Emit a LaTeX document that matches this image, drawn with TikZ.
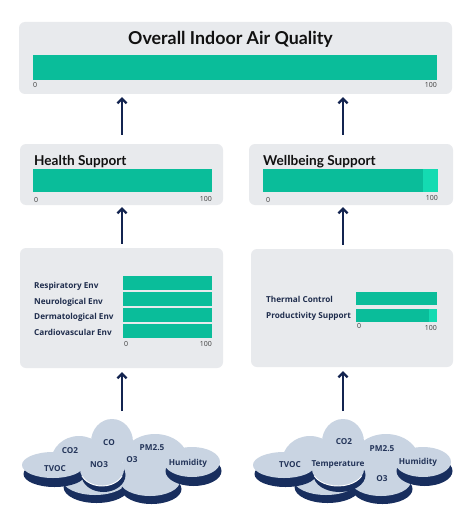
\documentclass[tikz,border=0pt]{standalone}
\usepackage{fontspec}
\setmainfont{Lato}
\newfontfamily\cloudfont{Open Sans}
\usetikzlibrary{arrows.meta,calc}
\definecolor{boxbg}{HTML}{E8EAED}
\definecolor{barteal}{HTML}{0ABD9A}
\definecolor{barlight}{HTML}{14DBB2}
\definecolor{navy}{HTML}{132450}
\definecolor{labeltext}{HTML}{1F2D4D}
\definecolor{titletext}{HTML}{111111}
\definecolor{cloudlight}{HTML}{C9D4E2}
\definecolor{clouddark}{HTML}{182E5E}
\definecolor{cloudtext}{HTML}{233459}
\definecolor{axistext}{HTML}{3A3A3A}
\newcommand\lobelight[4]{%
  \fill[cloudlight] (#1,#2) ellipse [x radius=#3pt, y radius=#4pt];}
% #5 = downward offset of the shadow
\newcommand\lobefull[5]{%
  \fill[clouddark] (#1+1.5,#2+#5) ellipse [x radius=#3pt, y radius=#4pt];
  \fill[cloudlight] (#1,#2) ellipse [x radius=#3pt, y radius=#4pt];}
% #1 = centre x of the front lobe, #2 = its x radius
\newcommand\cloudshape[2]{%
  \lobelight{112}{442}{21}{23}
  \lobelight{79}{462}{28}{26}
  \lobelight{155}{460}{33}{26}
  \lobefull{95}{479}{33}{16}{8}
  \lobefull{150}{481}{30}{15}{8}
  \lobefull{53}{465}{31}{13}{9}
  \lobefull{192}{462}{28}{15}{9}
  \lobefull{#1}{469}{#2}{17}{6}
  \draw[white, line width=0.9pt] (#1,469) ++(205:#2pt and 17pt) arc [start angle=205, end angle=335, x radius=#2pt, y radius=17pt];
}
\begin{document}
\begin{tikzpicture}[x=1pt,y=-1pt,
  panel/.style={fill=boxbg, rounded corners=6pt, inner sep=0pt, draw=none},
  bar/.style={fill=barteal, inner sep=0pt, anchor=north west, draw=none},
  barhi/.style={fill=barlight, inner sep=0pt, anchor=north west, draw=none},
  arr/.style={draw=navy, line width=2.3pt, -{Straight Barb[length=4.5pt,width=9pt]}},
  title/.style={font=\bfseries\fontsize{17.8}{20}\selectfont, text=titletext, inner sep=0pt, anchor=base},
  subtitle/.style={font=\bfseries\fontsize{13.6}{16}\selectfont, text=titletext, inner sep=0pt, anchor=base west},
  lbl/.style={font=\cloudfont\bfseries\fontsize{8.2}{10}\selectfont, text=labeltext, inner sep=0pt, anchor=base west},
  axl/.style={font=\cloudfont\fontsize{7}{8}\selectfont, text=axistext, inner sep=0pt, anchor=base west},
  axr/.style={font=\cloudfont\fontsize{7}{8}\selectfont, text=axistext, inner sep=0pt, anchor=base east},
  ctext/.style={font=\cloudfont\bfseries\fontsize{8.2}{9}\selectfont, text=cloudtext, inner sep=0pt}]
\useasboundingbox (0,0) rectangle (474,532);
\fill[white] (0,0) rectangle (474,532);
% panels
\node[panel, minimum width=433pt, minimum height=72pt] (top) at (235.5,58) {};
\node[panel, minimum width=203pt, minimum height=61pt] (hs) at (121.5,174.5) {};
\node[panel, minimum width=204pt, minimum height=61pt] (ws) at (351,174.5) {};
\node[panel, minimum width=203pt, minimum height=120pt] (envL) at (121.5,308) {};
\node[panel, minimum width=202pt, minimum height=118pt] (envR) at (352,308) {};
% top panel
\node[title] (ttl) at (230.5,45) {Overall Indoor Air Quality};
\node[bar, minimum width=404pt, minimum height=25pt] (topbar) at (33,55) {};
\node[axl] (t0) at (33,88) {0};
\node[axr] (t100) at (437,88) {100};
% health
\node[subtitle] (hst) at (34,165.5) {Health Support};
\node[bar, minimum width=179pt, minimum height=23pt] (hbar) at (33,169) {};
\node[axl] (h0) at (34,202) {0};
\node[axr] (h100) at (212,201) {100};
% wellbeing
\node[subtitle] (wst) at (263,165.5) {Wellbeing Support};
\node[bar, minimum width=175pt, minimum height=23pt] (wbar) at (263,169) {};
\node[barhi, minimum width=15pt, minimum height=23pt] (wbarhi) at (423,169) {};
\node[axl] (w0) at (266,202) {0};
\node[axr] (w100) at (438,200) {100};
% left env
\node[lbl] (l1) at (34,288) {Respiratory Env};
\node[lbl] (l2) at (34,304) {Neurological Env};
\node[lbl] (l3) at (34,319.5) {Dermatological Env};
\node[lbl] (l4) at (34,335) {Cardiovascular Env};
\node[bar, minimum width=89pt, minimum height=14pt] (b1) at (123,276) {};
\node[bar, minimum width=89pt, minimum height=14pt] (b2) at (123,292) {};
\node[bar, minimum width=89pt, minimum height=14pt] (b3) at (123,308) {};
\node[bar, minimum width=89pt, minimum height=14pt] (b4) at (123,324) {};
\node[axl] (e0) at (124,346) {0};
\node[axr] (e100) at (212,346) {100};
% right env
\node[lbl] (r1) at (266,302) {Thermal Control};
\node[lbl] (r2) at (266,318) {Productivity Support};
\node[bar, minimum width=81pt, minimum height=13pt] (rb1) at (356,292) {};
\node[bar, minimum width=81pt, minimum height=13pt] (rb2) at (356,309) {};
\node[barhi, minimum width=8pt, minimum height=13pt] (rb2hi) at (429,309) {};
\node[axl] (f0) at (357,328) {0};
\node[axr] (f100) at (437,330) {100};
% clouds
\begin{scope}
\cloudshape{102}{22}
\end{scope}
\begin{scope}[xshift=231pt]
\cloudshape{107}{26}
\end{scope}
\node[ctext] (c1) at (70,451) {CO2};
\node[ctext] (c2) at (109,443) {CO};
\node[ctext] (c3) at (152,448) {PM2.5};
\node[ctext] (c4) at (99,465) {NO3};
\node[ctext] (c5) at (132,460) {O3};
\node[ctext] (c6) at (55,469) {TVOC};
\node[ctext] (c7) at (188,463) {Humidity};
\node[ctext] (d1) at (290,465) {TVOC};
\node[ctext] (d2) at (338,465) {Temperature};
\node[ctext] (d3) at (344,442) {CO2};
\node[ctext] (d4) at (382,449) {PM2.5};
\node[ctext] (d5) at (418,462) {Humidity};
\node[ctext] (d6) at (382,479) {O3};
% arrows
\coordinate (axL) at (122,0);
\coordinate (axR) at (343,0);
\coordinate (cloudL) at (122,411);
\coordinate (cloudR) at (343,411);
\draw[arr] ([yshift=9pt]hs.north -| axL) -- ([yshift=-3pt]top.south -| axL);
\draw[arr] ([yshift=9pt]ws.north -| axR) -- ([yshift=-3pt]top.south -| axR);
\draw[arr] ([yshift=4pt]envL.north -| axL) -- ([yshift=-2pt]hs.south -| axL);
\draw[arr] ([yshift=4pt]envR.north -| axR) -- ([yshift=-2pt]ws.south -| axR);
\draw[arr] (cloudL) -- ([yshift=-4pt]envL.south -| axL);
\draw[arr] (cloudR) -- ([yshift=-4pt]envR.south -| axR);
\end{tikzpicture}
\end{document}
